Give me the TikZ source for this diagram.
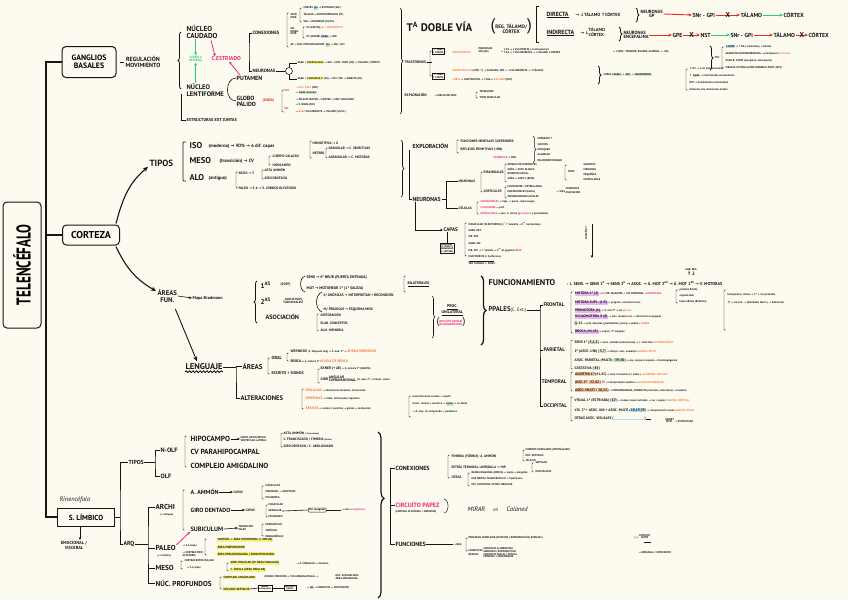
\documentclass[tikz,border=0pt]{standalone}
\usepackage{fontspec}
\setmainfont{PT Sans}
\newfontfamily\symf{DejaVu Sans}
\usetikzlibrary{arrows.meta,positioning,calc,decorations.pathreplacing,decorations.pathmorphing}
\definecolor{paper}{RGB}{253,251,239}
\definecolor{ink}{RGB}{22,22,22}
\definecolor{mkpink}{RGB}{240,40,120}
\definecolor{mkgreen}{RGB}{40,205,120}
\definecolor{mkred}{RGB}{232,45,30}
\definecolor{mkorange}{RGB}{246,120,60}
\definecolor{hlyellow}{RGB}{250,242,125}
\definecolor{hlpurple}{RGB}{232,180,245}
\definecolor{hlgreen}{RGB}{205,236,185}
\definecolor{hlblue}{RGB}{180,222,245}
\definecolor{hlsalmon}{RGB}{250,195,160}
\newcommand{\fsz}[1]{\fontsize{#1}{#1}\selectfont\bfseries}
\newcommand{\rarr}{{\symf →}}
\newcommand{\uarr}{{\symf ↑}}
\newcommand{\darr}{{\symf ↓}}
\newcommand{\org}[1]{\textcolor{mkorange}{#1}}
\newcommand{\pnk}[1]{\textcolor{mkpink}{#1}}
\newcommand{\hlt}[2]{{\setlength{\fboxsep}{0.5pt}\colorbox{#1}{#2}}}
\newcommand{\lab}[1]{{\fsz{3.6}#1}}
\newcommand{\brkt}[3]{\draw[brk] ({#1+2},#2) -- (#1,#2) -- (#1,#3) -- ({#1+2},#3);}

\begin{document}
\begin{tikzpicture}[x=1pt,y=-1pt,
    txt/.style={anchor=west,inner sep=0.4pt,align=left,text=ink},
    mid/.style={txt,font=\fsz{6.5}},
    sm/.style={txt,font=\fsz{3.4}},
    tn/.style={txt,font=\fsz{2.7}},
    frame/.style={draw=ink,line width=1pt,rounded corners=4pt,anchor=center},
    ln/.style={draw=ink,line width=0.6pt},
    trunk/.style={draw=ink,line width=1.6pt},
    brk/.style={draw=ink,line width=0.45pt,rounded corners=0.8pt},
    arr/.style={draw=ink,line width=0.6pt,-{Stealth[length=3pt,width=2.6pt]}},
    carr/.style={draw=ink,line width=1.1pt,-{Stealth[length=5pt,width=4.5pt]}},
    rarw/.style={draw=mkred,line width=0.9pt,-{Stealth[length=3.5pt,width=3pt]}},
    garw/.style={draw=mkgreen,line width=0.9pt,-{Stealth[length=3.5pt,width=3pt]}},
    parw/.style={draw=mkpink,line width=0.8pt,-{Stealth[length=3pt,width=3pt]}},
    cbrace/.style={draw=ink,line width=0.8pt,decorate,decoration={brace,amplitude=3pt}},
    xmk/.style={font=\fsz{7},inner sep=0pt,text=ink}]
  \fill[paper] (0,0) rectangle (848,600);
  \useasboundingbox (0,0) rectangle (848,600);

  % tronco principal
  \node[frame,rotate=90,minimum width=126pt,minimum height=38pt,font=\fsz{20}] (tel) at (22,265) {\scalebox{0.66}[1]{TELENCÉFALO}};
  \node[frame,font=\fsz{7.8},align=center,minimum width=54pt,minimum height=31pt] (gb) at (89,62) {GANGLIOS\\BASALES};
  \node[frame,font=\fsz{10},minimum width=57pt,minimum height=20pt] (cor) at (91,235) {CORTEZA};
  \node[draw=ink,line width=1pt,font=\fsz{7.3},minimum width=57pt,minimum height=18pt] (lim) at (86,517) {S. LÍMBICO};
  \coordinate (tt) at (46,62);
  \coordinate (tm) at (46,235);
  \coordinate (tb) at (46,517);
  \draw[trunk] (gb.west) -- (tt) -- (tb) -- (lim.west);
  \draw[trunk] (tm) -- (cor.west);

  % ganglios basales
  \node[mid,font=\fsz{6},align=center] (reg) at (125,62) {REGULACIÓN\\MOVIMIENTO};
  \draw[ln,shorten <=3pt,shorten >=1pt] (gb.east) -- (reg.west);
  \draw[cbrace] (181,89) -- (181,32);
  \coordinate (gbk) at (181,94);
  \node[mid,font=\fsz{7.2}] (cau) at (186,32) {NÚCLEO\\CAUDADO};
  \node[txt,font=\fsz{3.1},text=mkgreen] (cap) at (189,59) {CÁPSULA\\INTERNA};
  \node[txt,font=\fsz{5.6},text=mkpink] (estr) at (211,59) {C.ESTRIADO};
  \node[mid,font=\fsz{6.6}] (len) at (186,90) {NÚCLEO\\LENTIFORME};
  \node[txt,font=\fsz{6}] (put) at (236,78) {PUTAMEN};
  \node[txt,font=\fsz{6}] (gp) at (236,101) {GLOBO\\PÁLIDO};
  \node[txt,font=\fsz{3.8},text=mkred] (gaba) at (262,101) {(GABA)};
  \node[txt,font=\fsz{4.3}] (est) at (186,120) {ESTRUCTURAS EXT JUNTAS};
  \draw[ln] (gbk) |- (est.west);
  \draw[garw] (cau.south -| cap) -- (cap.north);
  \draw[garw] (len.north -| cap) -- (cap.south);
  \draw[parw] ($(cau.south)+(9,1)$) -- ($(estr.north west)+(4,0)$);
  \draw[parw] ($(put.north west)+(4,0)$) -- ($(estr.south)+(3,0)$);
  \draw[ln] (put.west) to[out=180,in=90] ($(len.east)+(3,0)$) to[out=-90,in=180] (gp.west);

  \node[txt,font=\fsz{4.7}] (con) at (252,33) {CONEXIONES};
  \node[txt,font=\fsz{4.7}] (neu) at (252,71) {NEURONAS};
  \coordinate (cnk) at (249,52);
  \draw[ln] (con.west) -| (cnk) |- (neu.west);
  \brkt{287}{13}{47}
  \node[tn] (cx1) at (290,16) {AFER.\\EFER.};
  \brkt{300}{8}{22}
  \node[tn] (cx2) at (303,8) {CÓRTEX \hlt{hlblue}{glu} \rarr\ ESTRIADO (SNc)};
  \node[tn] (cx3) at (303,15) {TÁLAMO \rarr\ CENTROMEDIANO (PF)};
  \node[tn] (cx4) at (303,22) {SNc \rarr\ DOPAMINA (D1/D2)};
  \node[tn] (cx5) at (290,31) {VÍA\\NIGRO-\\ESTR.};
  \brkt{303}{27}{38}
  \node[tn] (cx6) at (306,28) {D1 (EXCITA) \rarr\ \org{\uarr\ MOVIMIENTO}};
  \node[tn] (cx7) at (306,37) {D2 (INHIBE) \hlt{hlblue}{GABA} \rarr\ IND.};
  \node[tn] (cx8) at (290,45) {GP \rarr\ NÚC. PEDUNCULOPONT. \hlt{hlgreen}{glu} \rarr\ SNr / GPi};
  \node[draw=ink,circle,minimum size=7pt,inner sep=0pt,line width=0.6pt] (nq) at (289,71) {};
  \draw[ln] (neu.east) -- (nq.west);
  \node[tn] (ne1) at (297,63) {GABA + \hlt{hlyellow}{ENCEFALINAS} \rarr\ GPe \rarr\ NÚC. SUBT. (D2) \rarr\ TÁLAMO / CÓRTEX};
  \node[tn] (ne2) at (297,79) {GABA + \hlt{hlyellow}{SUSTANCIA P} (D1) \rarr\ GPi / SNr \rarr\ DIRECTA (D1)};
  \draw[ln] (nq.north) |- (ne1.west);
  \draw[ln] (nq.south) |- (ne2.west);
  \brkt{282}{90}{112}
  \node[tn,text=mkred] (gp1) at (284,91) {EXT};
  \node[tn] (gp2) at (295,88) {\org{\rarr\ NÚC. SUBT.} (NST)};
  \node[tn] (gp3) at (295,93) {\rarr\ \hlt{hlgreen}{GABA inhibidor}};
  \node[tn] (gp4) at (295,99) {\rarr\ TÁLAMO MOTOR \rarr\ CÓRTEX \rarr\ MOV. ADECUADO};
  \node[tn,text=mkred] (gp5) at (284,109) {INT};
  \node[tn] (gp6) at (295,105) {\rarr\ S. NIGRA (SNr)};
  \node[tn] (gp7) at (295,112) {\rarr\ \org{GABA} VÍA EFERENTE \rarr\ TÁLAMO (VA/VL)};
  \draw[cbrace,line width=0.7pt] (400,8) -- (400,114);

  % doble via
  \node[txt,font=\fsz{11}] (dv) at (406,27) {T\textsuperscript{A} DOBLE VÍA};
  \node[txt,font=\fsz{5}] (dvr) at (490,27) {{\fsz{17}\mdseries(}\begin{tabular}{@{}c@{}}REG. TÁLAMO/\\CÓRTEX\end{tabular}{\fsz{17}\mdseries)}};
  \draw[ink,line width=1pt] (539,6) -- (536,6) -- (536,42) -- (539,42);
  \node[txt,font=\fsz{6}] (dir) at (546,15) {\underline{DIRECTA}};
  \node[txt,font=\fsz{4.4}] (dirt) at (575,15) {\rarr\ \darr TÁLAMO \uarr CÓRTEX};
  \draw[cbrace] (636,8) -- (636,22);
  \node[txt,font=\fsz{4.6},align=center] (ngp) at (640,14) {NEURONAS\\GP};
  \node[txt,font=\fsz{5.8}] (snr1) at (692,15) {SNr - GPi};
  \node[txt,font=\fsz{5.8}] (tal1) at (740,15) {TÁLAMO};
  \node[txt,font=\fsz{5.8}] (crx1) at (783,15) {CÓRTEX};
  \draw[rarw] (ngp.east) -- (snr1.west);
  \draw[rarw] (snr1.east) -- node[xmk]{X} (tal1.west);
  \draw[garw] (tal1.east) -- (crx1.west);
  \node[txt,font=\fsz{6}] (ind) at (546,33) {\underline{INDIRECTA}};
  \node[txt,font=\fsz{4.4}] (indt) at (580,33) {\rarr\,\darr\begin{tabular}{@{}l@{}}TÁLAMO\\CÓRTEX\end{tabular}};
  \draw[cbrace] (619,27) -- (619,41);
  \node[txt,font=\fsz{4.6}] (nenc) at (623,35) {NEURONAS\\ENCEFALINA};
  \node[txt,font=\fsz{5.8}] (gpe) at (672,35) {GPE};
  \node[txt,font=\fsz{5.8}] (nst) at (700,35) {NST};
  \node[txt,font=\fsz{5.8}] (snr2) at (730,35) {SNr - GPi};
  \node[txt,font=\fsz{5.8}] (tal2) at (773,35) {TÁLAMO};
  \node[txt,font=\fsz{5.8}] (crx2) at (808,35) {CÓRTEX};
  \draw[rarw] (nenc.east) -- (gpe.west);
  \draw[rarw] (gpe.east) -- node[xmk]{X} (nst.west);
  \draw[garw] (nst.east) -- (snr2.west);
  \draw[rarw] (snr2.east) -- (tal2.west);
  \draw[rarw] (tal2.east) -- node[xmk]{X} (crx2.west);

  % trastornos
  \node[txt,font=\fsz{3.6}] (tra) at (404,62) {TRASTORNOS};
  \brkt{430}{51}{76}
  \node[draw=ink,line width=0.4pt,inner sep=0.6pt,font=\fsz{2.5},align=center,anchor=west] (tb1) at (432,51) {\uarr\ TONO\\\darr\ MOVIM.};
  \node[draw=ink,line width=0.4pt,inner sep=0.6pt,font=\fsz{2.5},align=center,anchor=west] (tb2) at (432,76) {\darr\ TONO\\\uarr\ MOVIM.};
  \node[tn] (tr1) at (452,52) {\org{HIPOCINÉTICOS}};
  \node[tn] (tr2) at (478,50) {PARKINSON\\SNc (DA)};
  \node[tn] (tr3) at (500,51) {\rarr\ \begin{tabular}{@{}l@{}}\darr D1 \rarr\ \darr VÍA DIRECTA (\darr estimulación)\\\uarr D2 \rarr\ \uarr VÍA INDIRECTA \rarr\ \darr TÁLAMO \darr CÓRTEX\end{tabular}};
  \node[tn] (tr4) at (612,52) {\rarr\ \darr MOV.: TEMBLOR, RIGIDEZ, ACINESIA \rarr\ \darr DA};
  \draw[cbrace] (710,46) -- (710,70);
  \node[tn] (tr5) at (714,58) {TTO};
  \brkt{722}{47}{68}
  \node[tn] (tr6) at (725,47) {\hlt{hlblue}{L-DOPA} \rarr\ \uarr DA (\darr síntomas), \darr efectos};
  \node[tn] (tr7) at (725,54) {AGONISTAS DOPAMINÉRGICOS \rarr\ pramipexol \org{discinesias}};
  \node[tn] (tr8) at (725,61) {IMAO-B, ICOMT (selegilina, entacapona)};
  \node[tn] (tr9) at (725,68) {CIRUGÍA: ESTIMULACIÓN CEREBRAL PROF. (NST)};
  \node[tn] (tr10) at (452,71) {\org{HIPERCINÉTICOS} (MOV. \uarr) \rarr\ CAUDADO, NST \rarr\ \darr VÍA INDIRECTA \rarr\ \uarr TÁLAMO};
  \node[tn] (tr11) at (452,80) {\org{COREA} \rarr\ HUNTINGTON \rarr\ \uarr CAG \rarr\ \org{BALISMO} (NST)};
  \draw[cbrace] (598,66) -- (598,84);
  \node[tn] (tr12) at (603,75) {COREA (\hlt{hlgreen}{GABA}) \rarr\ \hlt{hlgreen}{ACh} \rarr\ \hlt{hlgreen}{HALOPERIDOL}};
  \brkt{686}{69}{90}
  \node[tn] (tr13) at (689,69) {\uarr\ D2 \rarr\ \darr vía (tetrabenazina)};
  \node[tn] (tr14) at (689,76) {\uarr\ \hlt{hlgreen}{GABA} \rarr\ movimientos involuntarios};
  \node[tn] (tr15) at (689,83) {NST \rarr\ hemibalismo contralateral};
  \node[tn] (tr16) at (689,90) {distonías, tics, discinesias tardías};
  \node[txt,font=\fsz{3.6}] (expa) at (404,95) {EXPLORACIÓN};
  \node[tn] (expb) at (434,95) {\rarr\ EJECUCIÓN MOV.};
  \brkt{476}{92}{98}
  \node[tn] (expc) at (479,92) {TEMBLORES};
  \node[tn] (expd) at (479,98) {TONO MUSCULAR};
  \draw[brk] (tra.east) -- (tb1.west |- tra.east);

  % corteza: tipos
  \node[txt,font=\fsz{9}] (tip) at (149,163) {TIPOS};
  \draw[carr] ($(cor.north east)+(-4,-1)$) to[out=75,in=-140] ($(tip.south west)+(-1,0)$);
  \draw[brk,line width=0.7pt] (186,142) -- (183,142) -- (183,181) -- (186,181);
  \node[txt,font=\fsz{8.5}] (iso) at (189,146) {ISO};
  \node[txt,font=\fsz{4.7}] (isod) at (208,146) {(moderna) \rarr\ 90\% \rarr\ 6 dif. capas};
  \brkt{310}{141}{158}
  \node[sm] (homo) at (312,143) {HOMOTÍPICA \rarr\ X};
  \node[sm] (hete) at (312,153) {HETERO};
  \brkt{326}{148}{158}
  \node[sm] (gran) at (328,148) {GRANULAR \rarr\ C. SENSITIVAS};
  \node[sm] (agra) at (328,157) {AGRANULAR \rarr\ C. MOTORAS};
  \node[txt,font=\fsz{8.5}] (meso) at (189,161) {MESO};
  \node[txt,font=\fsz{4.7}] (mesd) at (219,161) {(transición) \rarr\ CV};
  \brkt{269}{156}{165}
  \node[sm] (cc) at (272,156) {CUERPO CALLOSO};
  \node[sm] (hip) at (272,165) {HIPOCAMPO};
  \node[txt,font=\fsz{8.5}] (alo) at (189,178) {ALO};
  \node[txt,font=\fsz{4.7}] (alod) at (208,178) {(antiguo)};
  \brkt{236}{172}{188}
  \node[sm] (arch) at (238,173) {ARCHI \rarr\ 3};
  \brkt{262}{170}{179}
  \node[sm] (ast) at (264,170) {ASTA AMMÓN};
  \node[sm] (gde) at (264,178) {GIRO DENTADO};
  \node[sm] (pale) at (238,188) {PALEO \rarr\ 3-6 \rarr\ S. LÍMBICO OLFATORIO};
  \draw[cbrace,line width=0.7pt] (401,140) -- (401,197);

  % exploracion y neuronas
  \node[txt,font=\fsz{5.8}] (expl) at (412,146) {EXPLORACIÓN};
  \node[txt,font=\fsz{5.8}] (nrn) at (412,199) {NEURONAS};
  \coordinate (exk) at (409,150);
  \draw[ln] (exk) |- (nrn.west);
  \brkt{457}{140}{153}
  \node[sm] (fms) at (460,141) {FUNCIONES MENTALES SUPERIORES};
  \node[sm] (rfp) at (460,150) {REFLEJOS PRIMITIVOS (+RN)};
  \draw[cbrace,line width=0.5pt] (533,136) -- (533,163);
  \foreach \t [count=\i] in {PRENSIÓN \uarr,SUCCIÓN,HOCIQUEO,GLABELAR,PALMOMENTONIANO}
    \node[tn] (rfx\i) at (537,{133+5.5*\i}) {\t};
  \node[tn] (dem) at (493,158) {\pnk{DEMENCIAS} \rarr\ PRN};
  \node[sm] (nr1) at (458,181) {NEURONAS};
  \draw[ln] ($(nrn.east)+(1,0)$) -- ++(4,0) |- (nr1.west);
  \brkt{481}{172}{192}
  \node[sm] (pir) at (483,172) {PIRAMIDALES};
  \brkt{505}{164}{182}
  \foreach \t [count=\i] in {ORIGEN VÍAS EFERENTES,AXÓN \rarr\ SUST. BLANCA,DENDRITA APICAL,AXÓN \rarr\ CAPA V (BETZ)}
    \node[tn] (pr\i) at (507,{159+5*\i}) {\t};
  \brkt{565}{165}{180}
  \node[tn] (prt) at (567,172) {TIPOS};
  \foreach \t [count=\i] in {GIGANTES,MEDIANAS,PEQUEÑAS,ESTRELLADAS}
    \node[tn] (prg\i) at (583,{160+5*\i}) {\t};
  \node[sm] (npi) at (483,191) {CORTICALES};
  \brkt{505}{187}{198}
  \foreach \t [count=\i] in {FUSIFORMES + ESTRELLADAS,HORIZONTALES (CAJAL),INTERNEURONAS LOCALES}
    \node[tn] (np\i) at (507,{182+5*\i}) {\t};
  \node[tn] (npx) at (556,191) {\rarr\ VÍAS \begin{tabular}{@{}l@{}}AFERENTES\\ASOCIACIÓN\end{tabular}};
  \node[sm] (cel) at (458,208) {CÉLULAS};
  \draw[ln] ($(nrn.east)+(5,0)$) |- (cel.west);
  \brkt{477}{202}{214}
  \node[tn] (ce1) at (480,202) {\pnk{HORIZONTALES} \rarr\ hapl. \rarr\ paral., ramas largas};
  \node[tn] (ce2) at (480,208) {\pnk{FUSIFORMES} \rarr\ prof.};
  \node[tn] (ce3) at (480,214) {\pnk{ESTRELLADAS} \rarr\ sust. b. córtex (\pnk{granulares} y piramidales)};
  \node[txt,font=\fsz{5.2}] (capas) at (443,230) {CAPAS};
  \draw[arr] ($(nrn.south west)+(3,0)$) |- (capas.west);
  \brkt{465}{223}{256}
  \foreach \t [count=\i] in {MOLECULAR (PLEXIFORME) (L\textsuperscript{c} \uarr\ tamaño) \rarr\ C\textsuperscript{es} horizontales,GRAN. EXT.,PIR. EXT.,GRAN. INT.,PIR. INT. \rarr\ \uarr\ tamaño \rarr\ C\textsuperscript{es} de gigantes \pnk{BETZ},MULTIFORME (+ fusiformes)}
    \node[tn] (cp\i) at (468,{217.5+6.5*\i}) {\t};
  \node[tn] (cpz) at (468,263) {\rule[1pt]{25pt}{0.3pt}\\VER TAMAÑO \darr\ SOMA};
  \node[draw=ink,line width=0.3pt,inner sep=0.6pt,font=\fsz{2.3},align=center,anchor=north] (cpb) at (447,243) {GRANULAR\\(C. SENSIT.)\\AGRANULAR\\(C. MOTORA)};
  \draw[ln] (capas.south -| cpb.north) -- (cpb.north);
  \node[tn,rotate=90] (tam) at (586,240) {TAMAÑO \uarr};
  \coordinate (tma) at (592,224);
  \coordinate (tmb) at (592,258);
  \draw[arr] (tma) -- (tmb);

  % corteza: areas
  \node[txt,font=\fsz{6.8},align=center] (are) at (157,296) {ÁREAS\\FUN.};
  \draw[carr] ($(cor.south east)+(-4,1)$) to[out=-65,in=150] ($(are.north west)+(-1,2)$);
  \node[txt,font=\fsz{4.3}] (bro) at (192,298) {Mapa Brodmann};
  \draw[arr] (are.east) -- (bro.west);
  \draw[cbrace] (257,323) -- (257,281);
  \node[txt,font=\fsz{7}] (as1) at (260,285) {1\textsuperscript{AS}};
  \node[sm] (soff) at (280,285) {(SOFF)};
  \draw[ln] (305,276) to[out=200,in=160] (305,292);
  \node[txt,font=\fsz{3.8}] (sens) at (306,278) {SENS \rarr\ 4ª NEUR (PUERTA ENTRADA)};
  \node[txt,font=\fsz{3.8}] (mot) at (306,289) {MOT \rarr\ MOTONEUR 1ª (1ª SALIDA)};
  \brkt{404}{276}{292}
  \node[txt,font=\fsz{3.8}] (bil) at (407,284) {\underline{BILATERALES}};
  \node[txt,font=\fsz{7}] (as2) at (260,301) {2\textsuperscript{AS}};
  \node[txt,font=\fsz{3}] (auni) at (283,301) {[\begin{tabular}{@{}c@{}}ASOCIATIVAS\\UNIMODALES\end{tabular}]};
  \draw[ln] (322,292) to[out=200,in=160] (322,312);
  \node[txt,font=\fsz{3.6}] (gno) at (323,295) {S/ GNÓSICAS \rarr\ INTERPRETAN + RECONOCEN};
  \node[txt,font=\fsz{3.6}] (pra) at (323,309) {M/ PRÁXICAS \rarr\ ESQUEMA MOV.};
  \node[txt,font=\fsz{6.2}] (aso) at (265,317) {ASOCIACIÓN};
  \brkt{317}{314}{331}
  \node[sm] (as3a) at (320,315) {INTEGRACIÓN};
  \node[sm] (as3b) at (320,323) {ELAB. CONCEPTOS};
  \node[sm] (as3c) at (320,330) {ALM. MEMORIA};
  \draw[cbrace,line width=0.6pt] (432,296) -- (432,338);
  \node[txt,font=\fsz{4},align=center] (unil) at (441,310) {\underline{PROC.}\\\underline{UNILATERAL}};
  \node[txt,font=\fsz{3.6},text=mkpink] (pcen) at (436,322) {{\fsz{10}\mdseries\textcolor{ink}{(}}\begin{tabular}{@{}c@{}}porción central\\procesamiento\end{tabular}{\fsz{10}\mdseries\textcolor{ink}{)}}};
  \draw[cbrace,line width=1.3pt,decoration={brace,amplitude=5pt}] (481,276) -- (481,345);
  \node[txt,font=\fsz{8.3}] (fun) at (488,283) {FUNCIONAMIENTO};
  \node[txt,font=\fsz{4.2}] (funt) at (566,283) {: \darr\ SENS. \rarr\ SENS 1\textsuperscript{A} \rarr\ SENS 2\textsuperscript{A} \rarr\ ASOC. \rarr\ Á. MOT 2\textsuperscript{AS} \rarr\ Á. MOT 1\textsuperscript{AS} \rarr\ V. MOTORAS};
  \node[tn,align=center] (ggb) at (685,272) {GGB. REG.\\{\fsz{5}\uarr\darr}};
  \node[txt,font=\fsz{6.8}] (ppa) at (488,310) {PPALES{\fsz{4.8}\mdseries(C. Ext.)}};
  \node[txt,font=\fsz{5.2}] (fro) at (543,305) {FRONTAL};
  \node[txt,font=\fsz{5.2}] (par) at (543,350) {PARIETAL};
  \node[txt,font=\fsz{5.2}] (tem) at (541,382) {TEMPORAL};
  \node[txt,font=\fsz{5.2}] (occ) at (543,406) {OCCIPITAL};
  \coordinate (ppk) at (540,310);
  \draw[ln] (ppa.east) -- (ppk);
  \draw[ln] (fro.west) -| (ppk) |- (occ.west);
  \draw[ln] (par.west) -- (par.west -| ppk);
  \draw[ln] (tem.west) -- (tem.west -| ppk);
  \brkt{571}{292}{333}
  \node[tn] (fr1) at (574,294) {\lab{\hlt{hlpurple}{MOTORA 1ª (4)}} \rarr\ C. PIR. GIGANTES \rarr\ VÍA PIRAMIDAL \rarr\ \pnk{HEMIPLEJIA}};
  \node[tn] (fr2) at (574,303) {\lab{\hlt{hlpurple}{MOTORA SUPL. (6 B)}} \rarr\ program. secuencias mov.};
  \node[tn] (fr3) at (574,311) {\lab{\hlt{hlpurple}{PREMOTORA (6)}} \rarr\ Á. mot 2ª \rarr\ cel \org{apraxia}};
  \node[tn] (fr4) at (574,317) {\lab{\hlt{hlpurple}{OCULOMOTORA 8 (8)}} \rarr\ mov. oculares vol. \rarr\ desviación conjugada};
  \node[tn] (fr5) at (574,324) {\lab{Q.-11} \rarr\ pref. dorsolat. [planificación, juicio] \rarr\ abulia \pnk{s. frontal}};
  \node[tn] (fr6) at (574,332) {\lab{\hlt{hlpurple}{BROCA (44,45)}} \rarr\ expres. 2ª lenguaje};
  \brkt{676}{290}{303}
  \node[tn] (fr7) at (679,290) {parálisis flácida};
  \node[tn] (fr8) at (679,296) {espasticidad};
  \node[tn] (fr9) at (679,302) {hiperreflexia (Babinski)};
  \brkt{724}{290}{330}
  \node[tn] (fr10) at (727,295) {hemiparesia, clónus \rarr\ 1ª \rarr\ vía piramidal};
  \node[tn] (fr11) at (727,303) {2ª \rarr\ vía mot. \rarr\ (debilidad, fascic.) \rarr\ diferenciar};
  \brkt{571}{340}{369}
  \node[tn] (pa1) at (574,342) {\lab{SENS 1ª (\hlt{hlgreen}{3,1,2})} \rarr\ sens. somática (homúnculo) \rarr\ \darr\ tacto fino \org{ASTEREOGNOSIA}};
  \node[tn] (pa2) at (574,351) {\lab{2ª (ASOC. UNI) (\hlt{hlgreen}{5,7})}  \rarr\ interpr. sens. somática \org{AGNOSIA TÁCTIL}};
  \node[tn] (pa3) at (574,360) {\lab{ASOC. PARIETAL (MULTI) (\hlt{hlgreen}{39,40})}  \rarr\ esq. corporal, espacio \rarr\ heminegligencia};
  \node[tn] (pa4) at (574,368) {\lab{GUSTATIVA (\hlt{hlgreen}{43})}};
  \brkt{571}{372}{391}
  \node[tn] (te1) at (574,374) {\lab{\hlt{hlsalmon}{AUDITIVA 1ª}(41,42)} \rarr\ tono, frecuencia (\darr\ audic.) \rarr\ \org{SORDERA CORTICAL}};
  \node[tn] (te2) at (574,382) {\lab{\hlt{hlsalmon}{AUD. 2ª} (\hlt{hlsalmon}{22,42}) \pnk{W}} \rarr\ interpretación auditiva \rarr\ \org{AFASIA DE WERNICKE}};
  \node[tn] (te3) at (574,390) {\lab{\hlt{hlsalmon}{ASOC. MULTI} (\hlt{hlsalmon}{20,21})} \rarr\ PROSOPAGNOSIA, CONDUCTA (instintos, emociones) \rarr\ memoria};
  \brkt{571}{397}{421}
  \node[tn] (oc1) at (574,400) {\lab{VISUAL 1ª (ESTRIADA) (\hlt{hlblue}{17})}  \rarr\ campo visual contralat. \rarr\ ver + signos \org{CEGUERA CORTICAL}};
  \node[tn] (oc2) at (574,410) {\lab{VIS. 2ª + ASOC. UNI + ASOC. MULTI (\hlt{hlblue}{18,19,39})}  \rarr\ interpretación visual \org{AGNOSIA VISUAL}};
  \node[tn] (oc3) at (574,419) {\lab{OTRAS ASOC. VISUALES (\hlt{hlblue}{\hspace{30pt}})}};
  \draw[ln] (oc3.east) -- ++(5,0);
  \node[tn] (oc4) at (665,421) {\begin{tabular}{@{}l@{}}PARIET.\\TEMP.\end{tabular} \rarr\ ESTRUCTURA};

  % lenguaje
  \node[txt,font=\fsz{8.4}] (leng) at (185,367) {LENGUAJE};
  \draw[decorate,decoration={snake,amplitude=0.9pt,segment length=3.5pt},line width=0.8pt] ($(leng.south west)+(0,1)$) -- ($(leng.south east)+(0,1)$);
  \draw[carr,line width=0.9pt] ($(are.south)+(8,6)$) -- ($(leng.north)+(-7,-2)$);
  \node[txt,font=\fsz{7}] (lare) at (242,366) {ÁREAS};
  \node[txt,font=\fsz{6.6}] (alt) at (240,398) {ALTERACIONES};
  \coordinate (lgk) at (236,367);
  \draw[ln] (leng.east) -- (lgk);
  \draw[ln] (lare.west) -| (lgk) |- (alt.west);
  \brkt{268}{358}{374}
  \node[txt,font=\fsz{4.4}] (oral) at (271,358) {ORAL};
  \brkt{287}{353}{361}
  \node[tn] (wer) at (290,352) {\lab{WERNICKE} (C. Temporal Sup) \rarr\ Á. Aud. 2ª \rarr\ \org{\lab{AFASIA WERNICKE}}};
  \node[tn] (broc) at (290,361) {\lab{BROCA} \rarr\ Á. motora 2ª \org{\lab{AFASIA DE BROCA}}};
  \node[txt,font=\fsz{4}] (escr) at (271,373) {ESCRITO + SIGNOS};
  \brkt{318}{369}{383}
  \node[tn] (exn) at (320,369) {\lab{EXNER (+ AE)} \rarr\ Á. motora 2ª (GRAFÍA)};
  \node[tn] (giro) at (320,379) {\lab{GIRO} \begin{tabular}{@{}l@{}}\lab{ANGULAR}\\\lab{SUPRAMARGINAL}\end{tabular} \} Á. asoc 2ª \rarr\ interpr. visual};
  \brkt{302}{389}{409}
  \node[tn] (al1) at (305,390) {\lab{\org{DISLALIAS}} \rarr\ alteraciones fonéticas, articulación};
  \node[tn] (al2) at (305,398) {\lab{\org{DISFEMIAS}} \rarr\ ritmo: tartamudez, taquilalia};
  \node[tn] (al3) at (305,408) {\lab{\org{AFASIAS}} \rarr\ motora / sensitiva \rarr\ global \rarr\ conducción};
  \brkt{409}{396}{417}
  \node[tn] (al4) at (412,397) {lesión fascículo arcuato \rarr\ repetir};
  \node[tn] (al5) at (412,404) {transc. motora / sensitiva \rarr\ \hlt{hlgreen}{repite} \rarr\ no habla};
  \node[tn] (al6) at (412,412) {\rarr\ Á. asoc. no comprende \rarr\ parafasias};

  % sistema limbico
  \node[txt,font=\fontsize{6.5}{6.5}\selectfont\itshape] (rin) at (59,500) {Rinencéfalo};
  \node[txt,font=\fsz{4.4},align=center,anchor=north] (emo) at (74,541) {EMOCIONAL /\\VISCERAL};
  \draw[arr,line width=0.9pt] ($(lim.south)+(-6,0)$) -- ($(emo.north)+(6,-1)$);
  \node[txt,font=\fsz{5.8}] (tip2) at (128,462) {TIPOS};
  \node[txt,font=\fsz{5.8}] (arq) at (123,544) {ARQ};
  \coordinate (lj) at (120,517);
  \draw[ln,line width=0.8pt] (tip2.west) -| (lj) |- (arq.west);
  \draw[ln,line width=0.8pt] (lim.east) -- (lj);
  \node[txt,font=\fsz{6.3}] (nolf) at (160,450) {N-OLF};
  \node[txt,font=\fsz{6.3}] (olf) at (160,476) {OLF};
  \coordinate (tk2) at (155,462);
  \draw[ln] (nolf.west) -| (tk2) |- (olf.west);
  \draw[ln] (tip2.east) -- (tk2);
  \brkt{185}{436}{467}
  \node[txt,font=\fsz{7.4}] (hipo) at (190,439) {HIPOCAMPO};
  \node[txt,font=\fsz{7.4}] (cvp) at (190,452) {CV PARAHIPOCAMPAL};
  \node[txt,font=\fsz{7.4}] (camy) at (190,466) {COMPLEJO AMIGDALINO};
  \node[tn] (hsur) at (240,439) {SURCO HIPOCÁMPICO\\VENTRÍCULO LATERAL};
  \draw[arr] (hipo.east) -- (hsur.west);
  \brkt{281}{433}{447}
  \node[sm] (hs1) at (283,433) {ASTA AMMÓN {\fsz{2.3}(= hipocampo)}};
  \node[sm] (hs2) at (283,440) {C. FRANCISCADO / FIMBRIA {\fsz{2.3}(fórnix)}};
  \node[sm] (hs3) at (283,447) {GIRO DENTADO / C. ABOLLONADO};
  \node[txt,font=\fsz{7.2}] (arc) at (155,507) {ARCHI};
  \node[tn] (arcb) at (160,515) {(+ antigua)};
  \node[txt,font=\fsz{7.2}] (pal) at (155,548) {PALEO};
  \node[tn] (palb) at (157,556) {(+ reciente)};
  \node[txt,font=\fsz{7.2}] (mes) at (155,568) {MESO};
  \node[txt,font=\fsz{7.2}] (nuc) at (155,583) {NÚC. PROFUNDOS};
  \coordinate (aq) at (148,544);
  \draw[ln] (arc.west) -| (aq) |- (nuc.west);
  \draw[ln] (arq.east) -- (aq);
  \draw[ln] (pal.west) -- (pal.west -| aq);
  \draw[ln] (mes.west) -- (mes.west -| aq);
  \brkt{183}{490}{530}
  \node[txt,font=\fsz{6}] (amm) at (190,492) {A. AMMÓN};
  \node[sm] (cap1) at (233,492) {CAPAS};
  \draw[arr] (amm.east) -- (cap1.west);
  \brkt{262}{486}{499}
  \node[tn] (c1a) at (265,486) {MOLECULAR};
  \node[tn] (c1b) at (265,492) {PIRAMIDAL \rarr\ APOPTOSIS};
  \node[tn] (c1c) at (265,498) {POLIMORFA};
  \node[txt,font=\fsz{6}] (gd) at (190,510) {GIRO DENTADO};
  \node[sm] (cap2) at (245,510) {CAPAS};
  \draw[arr] (gd.east) -- (cap2.west);
  \brkt{266}{505}{517}
  \node[tn] (c2a) at (268,505) {MOLECULAR};
  \node[tn] (c2b) at (268,511) {GRANULAR};
  \node[tn] (c2c) at (268,517) {POLIMORFA};
  \node[draw=ink,line width=0.4pt,rounded corners=1pt,inner sep=0.8pt,font=\fsz{2.7},anchor=west] (musg) at (308,510) {Cél. musgosas};
  \draw[ln] (c2b.east) -- (musg.west);
  \node[tn] (neug) at (341,510) {\rarr\ vías \pnk{neurogénesis}};
  \draw[ln] (musg.east) -- (neug.west);
  \node[txt,font=\fsz{6.3}] (sub) at (190,529) {SUBICULUM};
  \node[tn] (subt) at (238,528) {TRANSICIÓN\\PALEO};
  \draw[arr] (sub.east) -- (subt.west);
  \brkt{262}{524}{536}
  \node[tn] (s1) at (265,524) {PRESUBÍCULO};
  \node[tn] (s2) at (265,530) {SUBÍCULO};
  \node[tn] (s3) at (265,536) {PARASUBÍCULO};
  \draw[parw] (pal.north east) -- (sub.south west);
  \node[tn] (p3) at (182,546) {\rarr\ 3-6 capas};
  \node[tn] (p3b) at (182,554) {\rarr\ CORTEZA PIRIF.\\OLFATORIA};
  \brkt{205}{539}{555}
  \node[txt,font=\fsz{3},fill=hlyellow] (py1) at (217,540) {CORTEZA \rarr\ ÁREA ENTORRINAL (+ UNCUS)};
  \node[txt,font=\fsz{3},fill=hlyellow] (py2) at (217,547) {ÁREA PREPIRIFORME};
  \node[txt,font=\fsz{3},fill=hlyellow] (py3) at (217,554) {ÁREA PERIAMIGDALINA / PARAHIPOCAMPAL};
  \brkt{181}{561}{569}
  \node[tn] (m1) at (184,561) {CORTEZA ENTRE ISO/ALO};
  \node[tn] (m2) at (186,568) {\rarr\ 5-6 capas};
  \brkt{227}{563}{571}
  \node[txt,font=\fsz{3},fill=hlyellow] (my1) at (230,563) {GIRO CINGULAR (CV ÁREA CINGULAR)};
  \node[tn] (my1b) at (296,563) {\rarr\ Á. CINGULAR \rarr\ memoria};
  \node[txt,font=\fsz{3},fill=hlyellow] (my2) at (230,570) {C. ÍNSULA (ÁREA INSULAR)};
  \brkt{220}{577}{589}
  \node[txt,font=\fsz{3},fill=hlyellow] (ny1) at (223,577) {COMPLEJO AMIGDALINO};
  \node[tn] (ny1b) at (264,577) {(MIEDO, EMOCIÓN) \rarr\ VÍA AMIGDALOFUGAL \rarr};
  \node[tn] (ny1c) at (335,577) {NÚC. AMIGDALINOS\\ÁREA AMIGDALINA};
  \node[txt,font=\fsz{3},fill=hlyellow] (ny2) at (223,589) {NÚCLEOS SEPTALES};
  \node[draw=ink,line width=0.3pt,inner sep=0.5pt,font=\fsz{2.3},align=center,anchor=west] (ny2b) at (258,588) {(placer,\\recompensa)};
  \node[draw=ink,line width=0.4pt,inner sep=0.5pt,font=\fsz{2.3},align=center,anchor=west] (ny2c) at (284,588) {HAZ PROS-\\ENCEF.};
  \draw[ln] (ny2.east) -- (ny2b.west);
  \draw[ln] (ny2b.east) -- (ny2c.west);
  \node[tn] (ny2d) at (306,588) {\rarr\ \hlt{hlblue}{DA} \rarr\ CONDUCTA \rarr\ MOTIVACIÓN};

  % conexiones, papez, funciones
  \draw[cbrace,line width=1.2pt,decoration={brace,amplitude=6pt,aspect=0.4}] (378,432) -- (378,598);
  \node[txt,font=\fsz{6}] (conx) at (395,468) {CONEXIONES};
  \node[txt,font=\fsz{6.2},text=mkpink] (papz) at (395,505) {CIRCUITO PAPEZ};
  \node[tn] (papb) at (395,512) {(CORTEZA OLFATORIA + MEMORIA)};
  \node[txt,font=\fsz{6}] (func) at (395,544) {FUNCIONES};
  \draw[ln] (conx.west) -- ++(-5,0) |- (func.west);
  \draw[ln] (papz.west) -- ++(-5,0);
  \draw[ln,line width=0.5pt] ($(papz.east)+(4,-6)$) to[out=-10,in=10] ($(papz.east)+(4,8)$);
  \node[txt,font=\fontsize{6.5}{6.5}\selectfont\itshape] (mir) at (467,509) {MIRAR \quad {\fontsize{5}{5}\selectfont en} \quad Calaned};
  \brkt{448}{455}{478}
  \node[sm] (fim) at (451,456) {FIMBRIA (FÓRNIX): A. AMMÓN};
  \brkt{523}{450}{461}
  \node[tn] (fim1) at (525,450) {CUERPOS MAMILARES (HIPOTÁLAMO)};
  \node[tn] (fim2) at (525,455) {NÚC. SEPTALES};
  \node[tn] (fim3) at (525,460) {TÁLAMO};
  \node[sm] (estt) at (451,467) {ESTRÍA TERMINAL: AMÍGDALA \rarr\ HIP.};
  \brkt{532}{463}{472}
  \node[tn] (est1) at (535,463) {SEPTALES};
  \node[tn] (est2) at (535,471) {HIPOTÁLAMO};
  \node[sm] (otr) at (451,477) {OTRAS};
  \brkt{468}{473}{486}
  \node[tn] (ot1) at (471,473) {BANDA DIAGONAL (BROCA) \rarr\ septo \rarr\ amígdala};
  \node[tn] (ot2) at (471,479) {HAZ MEDIAL TELENCEFÁLICO \rarr\ hipotálamo};
  \node[tn] (ot3) at (471,485) {EST. OLFATORIA, ESTRÍA MEDULAR};
  \node[tn] (fb1) at (453,544) {\rarr\ BÁS.};
  \draw[ln] (func.east) -- (fb1.west);
  \brkt{466}{538}{551}
  \node[tn] (fb2) at (468,538) {PROCESOS COMPLEJOS (EMOCIÓN / REPRODUCCIÓN, ESPACIAL)};
  \node[tn] (fb3) at (468,553) {\begin{tabular}{@{}l@{}}CONDUCTAS\\BÁSICAS\end{tabular} \begin{tabular}{@{}l@{}}CONDUCTA ALIMENTARIA\\AGRESIÓN / REPRODUCTIVA\\CONDUCTA SOCIAL / SEXUAL\\MEMORIA / APRENDIZAJE\end{tabular}};
  \node[tn] (fb4) at (634,537) {\} \rarr\ \begin{tabular}{@{}c@{}}CIRCUITO\\PAPEZ\end{tabular}};
  \node[tn] (fb5) at (638,553) {\rarr\ AMÍGDALA / HIPOCAMPO};
  \draw[ln,line width=0.3pt] ($(fb4.south west)+(10,1.5)$) -- ($(fb4.south east)+(0,1.5)$);
\end{tikzpicture}
\end{document}
